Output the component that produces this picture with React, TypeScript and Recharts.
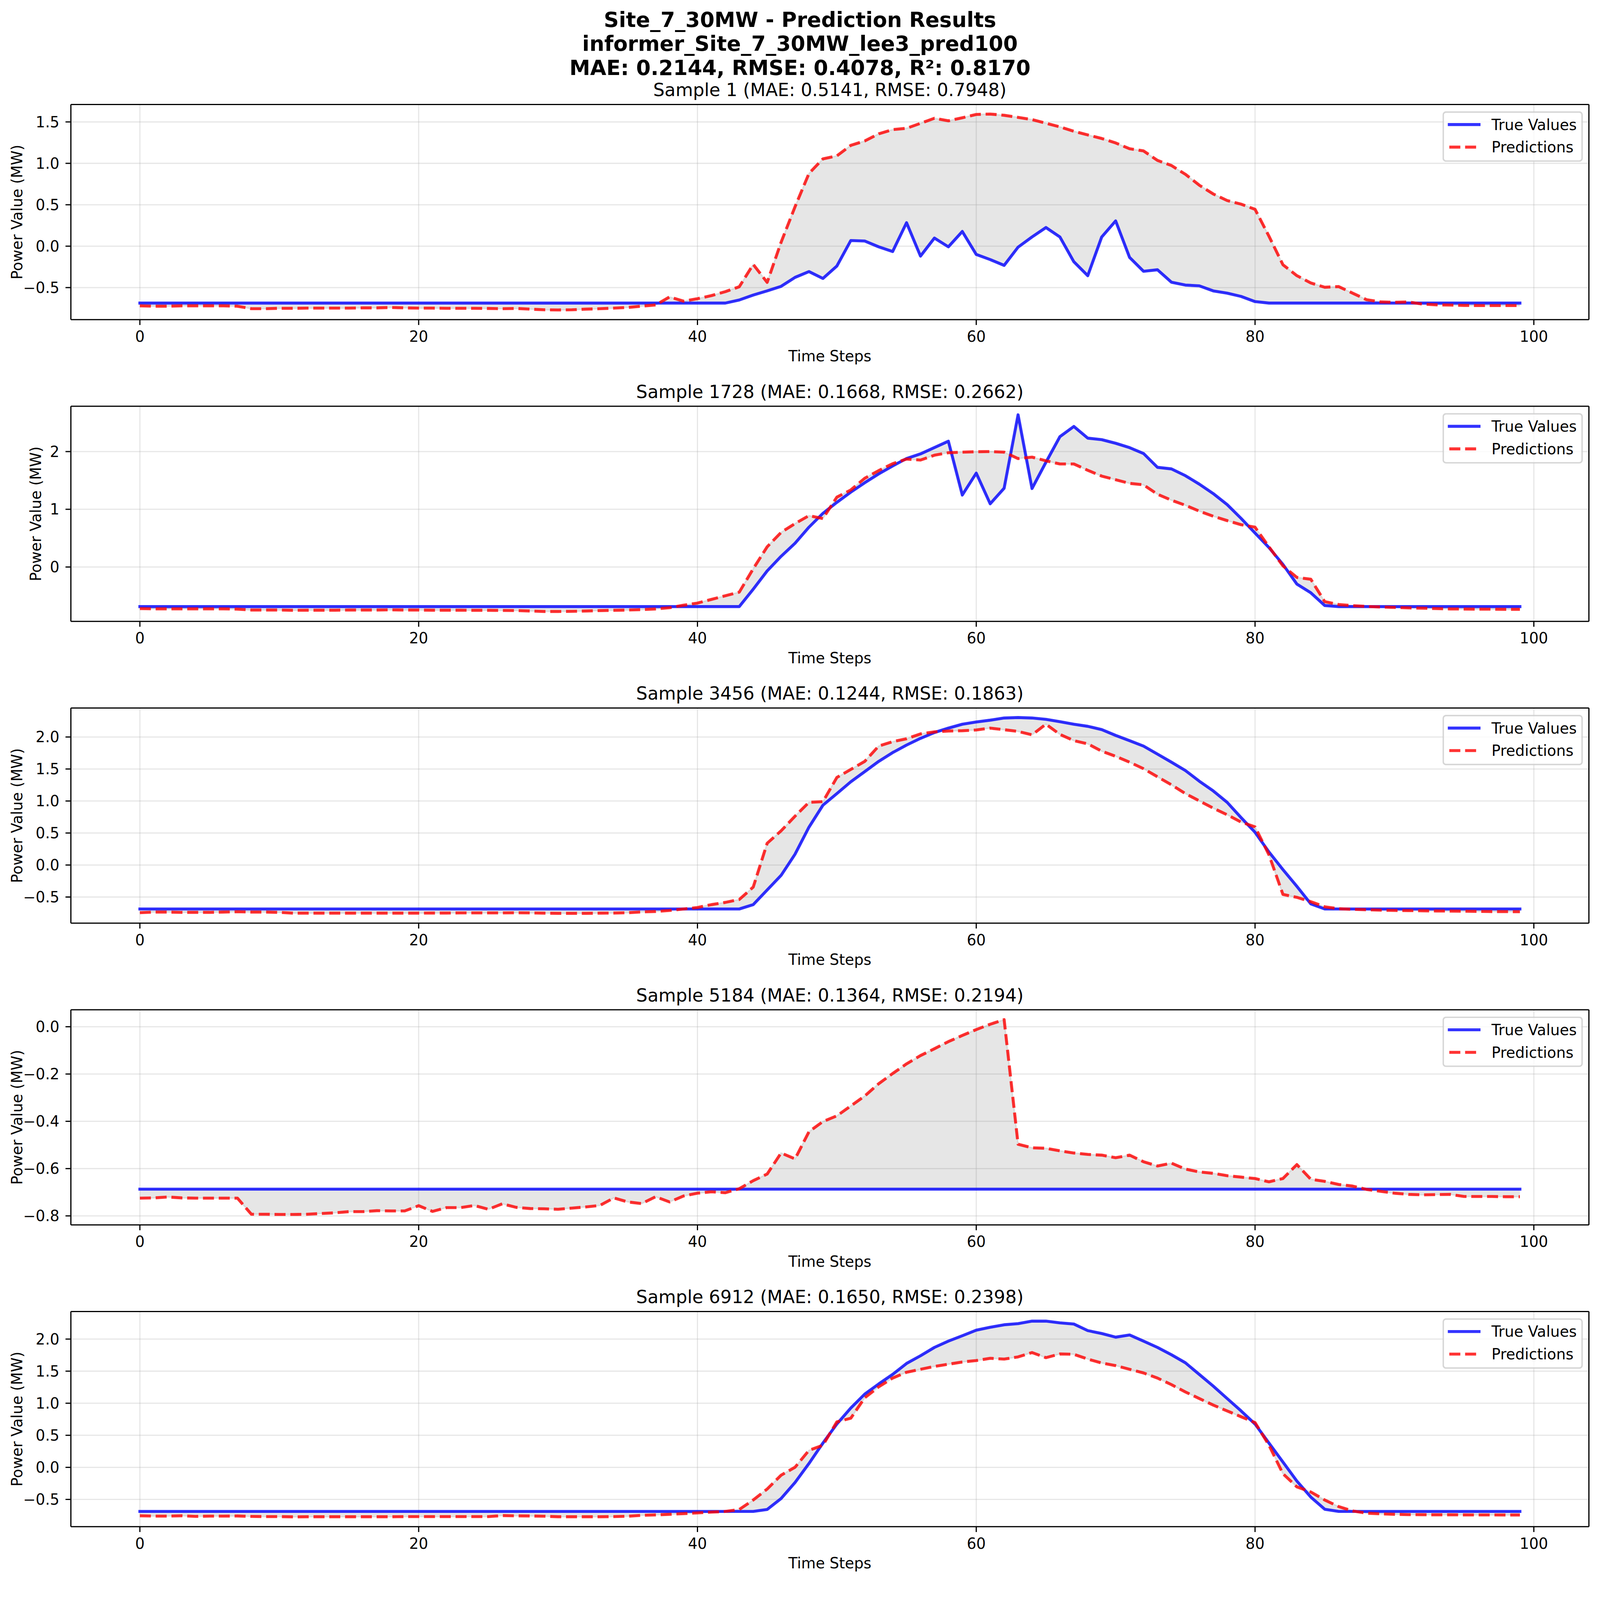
import React from 'react';
import {
  ComposedChart,
  Line,
  Area,
  XAxis,
  YAxis,
  CartesianGrid,
  ReferenceLine,
  Legend,
} from 'recharts';

// ---------------- data ----------------
const TIME_STEPS = Array.from({ length: 100 }, (_, i) => i);
const X_TICKS = [0, 20, 40, 60, 80, 100];

const SUPTITLE_LINES = [
  'Site_7_30MW - Prediction Results',
  'informer_Site_7_30MW_lee3_pred100',
  'MAE: 0.2144, RMSE: 0.4078, R\u00b2: 0.8170',
];
const SAMPLE_TITLES = [
  'Sample 1 (MAE: 0.5141, RMSE: 0.7948)',
  'Sample 1728 (MAE: 0.1668, RMSE: 0.2662)',
  'Sample 3456 (MAE: 0.1244, RMSE: 0.1863)',
  'Sample 5184 (MAE: 0.1364, RMSE: 0.2194)',
  'Sample 6912 (MAE: 0.1650, RMSE: 0.2398)',
];
const SERIES_NAMES = ['True Values', 'Predictions'];
const X_LABEL = 'Time Steps';
const Y_LABEL = 'Power Value (MW)';

const P1_TICKS = [-0.5, 0, 0.5, 1, 1.5];
const P2_TICKS = [0, 1, 2];
const P3_TICKS = [-0.5, 0, 0.5, 1, 1.5, 2];
const P4_TICKS = [-0.8, -0.6, -0.4, -0.2, 0];
const P5_TICKS = [-0.5, 0, 0.5, 1, 1.5, 2];

const P1_TRUE = [
  -0.687, -0.687, -0.687, -0.687, -0.687, -0.687, -0.687, -0.687, -0.687, -0.687,
  -0.687, -0.687, -0.687, -0.687, -0.687, -0.687, -0.687, -0.687, -0.687, -0.687,
  -0.687, -0.687, -0.687, -0.687, -0.687, -0.687, -0.687, -0.687, -0.687, -0.687,
  -0.687, -0.687, -0.687, -0.687, -0.687, -0.687, -0.687, -0.687, -0.687, -0.687,
  -0.687, -0.687, -0.687, -0.65, -0.59, -0.54, -0.485, -0.377, -0.307, -0.39,
  -0.24, 0.068, 0.062, -0.008, -0.065, 0.283, -0.12, 0.098, -0.008, 0.177,
  -0.1, -0.162, -0.232, -0.012, 0.111, 0.225, 0.111, -0.188, -0.356, 0.111,
  0.305, -0.136, -0.303, -0.285, -0.435, -0.47, -0.479, -0.54, -0.567, -0.607,
  -0.669, -0.687, -0.687, -0.687, -0.687, -0.687, -0.687, -0.687, -0.687, -0.687,
  -0.687, -0.687, -0.687, -0.687, -0.687, -0.687, -0.687, -0.687, -0.687, -0.687,
];
const P1_PRED = [
  -0.72, -0.725, -0.725, -0.72, -0.72, -0.72, -0.72, -0.725, -0.755, -0.755,
  -0.75, -0.75, -0.748, -0.748, -0.748, -0.748, -0.745, -0.745, -0.74, -0.745,
  -0.748, -0.748, -0.75, -0.75, -0.75, -0.752, -0.755, -0.752, -0.76, -0.768,
  -0.77, -0.768, -0.76, -0.755, -0.748, -0.74, -0.724, -0.71, -0.613, -0.664,
  -0.634, -0.597, -0.549, -0.49, -0.22, -0.437, 0.047, 0.476, 0.878, 1.054,
  1.09, 1.217, 1.27, 1.356, 1.407, 1.423, 1.483, 1.544, 1.513, 1.55,
  1.59, 1.595, 1.58, 1.555, 1.528, 1.484, 1.44, 1.387, 1.343, 1.3,
  1.246, 1.176, 1.15, 1.035, 0.974, 0.868, 0.736, 0.63, 0.551, 0.507,
  0.445, 0.12, -0.224, -0.356, -0.444, -0.496, -0.488, -0.567, -0.646, -0.673,
  -0.678, -0.673, -0.699, -0.708, -0.711, -0.715, -0.717, -0.717, -0.717, -0.717,
];

const P2_TRUE = [
  -0.686, -0.686, -0.686, -0.686, -0.686, -0.686, -0.686, -0.686, -0.686, -0.686,
  -0.686, -0.686, -0.686, -0.686, -0.686, -0.686, -0.686, -0.686, -0.686, -0.686,
  -0.686, -0.686, -0.686, -0.686, -0.686, -0.686, -0.686, -0.686, -0.686, -0.686,
  -0.686, -0.686, -0.686, -0.686, -0.686, -0.686, -0.686, -0.686, -0.686, -0.686,
  -0.686, -0.686, -0.686, -0.686, -0.384, -0.068, 0.185, 0.412, 0.69, 0.93,
  1.12, 1.297, 1.46, 1.613, 1.75, 1.88, 1.96, 2.07, 2.18, 1.247,
  1.626, 1.095, 1.365, 2.637, 1.36, 1.815, 2.258, 2.435, 2.233, 2.207,
  2.144, 2.068, 1.967, 1.727, 1.7, 1.583, 1.436, 1.272, 1.082, 0.842,
  0.589, 0.336, 0.045, -0.296, -0.447, -0.667, -0.686, -0.686, -0.686, -0.686,
  -0.686, -0.686, -0.686, -0.686, -0.686, -0.686, -0.686, -0.686, -0.686, -0.686,
];
const P2_PRED = [
  -0.72, -0.725, -0.725, -0.725, -0.725, -0.725, -0.725, -0.73, -0.745, -0.745,
  -0.745, -0.75, -0.748, -0.748, -0.748, -0.745, -0.745, -0.745, -0.742, -0.745,
  -0.745, -0.748, -0.748, -0.748, -0.75, -0.75, -0.752, -0.755, -0.762, -0.77,
  -0.77, -0.768, -0.762, -0.755, -0.75, -0.745, -0.738, -0.726, -0.705, -0.662,
  -0.625, -0.561, -0.498, -0.435, -0.03, 0.35, 0.6, 0.753, 0.89, 0.84,
  1.21, 1.335, 1.537, 1.67, 1.79, 1.87, 1.853, 1.937, 1.98, 1.99,
  1.997, 2.0, 1.99, 1.879, 1.904, 1.84, 1.785, 1.785, 1.676, 1.575,
  1.512, 1.449, 1.424, 1.26, 1.158, 1.07, 0.968, 0.88, 0.804, 0.733,
  0.69, 0.349, 0.02, -0.18, -0.212, -0.6, -0.65, -0.67, -0.683, -0.693,
  -0.7, -0.708, -0.713, -0.72, -0.726, -0.728, -0.73, -0.731, -0.733, -0.733,
];

const P3_TRUE = [
  -0.687, -0.687, -0.687, -0.687, -0.687, -0.687, -0.687, -0.687, -0.687, -0.687,
  -0.687, -0.687, -0.687, -0.687, -0.687, -0.687, -0.687, -0.687, -0.687, -0.687,
  -0.687, -0.687, -0.687, -0.687, -0.687, -0.687, -0.687, -0.687, -0.687, -0.687,
  -0.687, -0.687, -0.687, -0.687, -0.687, -0.687, -0.687, -0.687, -0.687, -0.687,
  -0.687, -0.687, -0.687, -0.687, -0.619, -0.39, -0.162, 0.169, 0.591, 0.934,
  1.116, 1.3, 1.459, 1.619, 1.756, 1.874, 1.979, 2.07, 2.139, 2.2,
  2.235, 2.263, 2.297, 2.304, 2.297, 2.276, 2.24, 2.2, 2.167, 2.116,
  2.025, 1.943, 1.858, 1.733, 1.607, 1.477, 1.31, 1.158, 0.979, 0.74,
  0.511, 0.203, -0.071, -0.333, -0.607, -0.687, -0.687, -0.687, -0.687, -0.687,
  -0.687, -0.687, -0.687, -0.687, -0.687, -0.687, -0.687, -0.687, -0.687, -0.687,
];
const P3_PRED = [
  -0.745, -0.735, -0.735, -0.74, -0.74, -0.74, -0.735, -0.73, -0.735, -0.735,
  -0.74, -0.752, -0.752, -0.752, -0.752, -0.752, -0.752, -0.752, -0.752, -0.752,
  -0.752, -0.75, -0.75, -0.748, -0.748, -0.748, -0.748, -0.746, -0.748, -0.752,
  -0.755, -0.755, -0.755, -0.752, -0.75, -0.745, -0.733, -0.726, -0.71, -0.687,
  -0.664, -0.619, -0.584, -0.539, -0.345, 0.34, 0.534, 0.763, 0.98, 0.99,
  1.368, 1.493, 1.619, 1.858, 1.927, 1.973, 2.048, 2.08, 2.094, 2.098,
  2.11, 2.139, 2.114, 2.087, 2.034, 2.2, 2.041, 1.943, 1.893, 1.779,
  1.699, 1.607, 1.505, 1.379, 1.253, 1.116, 1.002, 0.888, 0.785, 0.671,
  0.596, 0.158, -0.459, -0.505, -0.573, -0.653, -0.683, -0.692, -0.699, -0.705,
  -0.71, -0.712, -0.715, -0.718, -0.72, -0.722, -0.725, -0.727, -0.728, -0.73,
];

const P4_TRUE = [
  -0.687, -0.687, -0.687, -0.687, -0.687, -0.687, -0.687, -0.687, -0.687, -0.687,
  -0.687, -0.687, -0.687, -0.687, -0.687, -0.687, -0.687, -0.687, -0.687, -0.687,
  -0.687, -0.687, -0.687, -0.687, -0.687, -0.687, -0.687, -0.687, -0.687, -0.687,
  -0.687, -0.687, -0.687, -0.687, -0.687, -0.687, -0.687, -0.687, -0.687, -0.687,
  -0.687, -0.687, -0.687, -0.687, -0.687, -0.687, -0.687, -0.687, -0.687, -0.687,
  -0.687, -0.687, -0.687, -0.687, -0.687, -0.687, -0.687, -0.687, -0.687, -0.687,
  -0.687, -0.687, -0.687, -0.687, -0.687, -0.687, -0.687, -0.687, -0.687, -0.687,
  -0.687, -0.687, -0.687, -0.687, -0.687, -0.687, -0.687, -0.687, -0.687, -0.687,
  -0.687, -0.687, -0.687, -0.687, -0.687, -0.687, -0.687, -0.687, -0.687, -0.687,
  -0.687, -0.687, -0.687, -0.687, -0.687, -0.687, -0.687, -0.687, -0.687, -0.687,
];
const P4_PRED = [
  -0.725, -0.724, -0.72, -0.724, -0.725, -0.725, -0.725, -0.725, -0.793, -0.793,
  -0.794, -0.794, -0.793, -0.79, -0.787, -0.782, -0.782, -0.778, -0.779, -0.779,
  -0.757, -0.781, -0.765, -0.765, -0.756, -0.772, -0.749, -0.764, -0.769, -0.77,
  -0.772, -0.767, -0.762, -0.756, -0.724, -0.741, -0.748, -0.719, -0.741, -0.716,
  -0.704, -0.698, -0.702, -0.685, -0.651, -0.623, -0.534, -0.559, -0.444, -0.401,
  -0.377, -0.335, -0.293, -0.241, -0.198, -0.157, -0.122, -0.093, -0.063, -0.037,
  -0.012, 0.0105, 0.03, -0.497, -0.512, -0.514, -0.525, -0.534, -0.54, -0.543,
  -0.554, -0.543, -0.571, -0.589, -0.577, -0.602, -0.614, -0.62, -0.63, -0.636,
  -0.642, -0.656, -0.642, -0.583, -0.645, -0.654, -0.667, -0.674, -0.688, -0.696,
  -0.704, -0.709, -0.711, -0.71, -0.709, -0.718, -0.718, -0.718, -0.719, -0.719,
];

const P5_TRUE = [
  -0.687, -0.687, -0.687, -0.687, -0.687, -0.687, -0.687, -0.687, -0.687, -0.687,
  -0.687, -0.687, -0.687, -0.687, -0.687, -0.687, -0.687, -0.687, -0.687, -0.687,
  -0.687, -0.687, -0.687, -0.687, -0.687, -0.687, -0.687, -0.687, -0.687, -0.687,
  -0.687, -0.687, -0.687, -0.687, -0.687, -0.687, -0.687, -0.687, -0.687, -0.687,
  -0.687, -0.687, -0.687, -0.687, -0.687, -0.657, -0.486, -0.236, 0.06, 0.379,
  0.675, 0.925, 1.142, 1.3, 1.449, 1.62, 1.74, 1.87, 1.968, 2.052,
  2.139, 2.184, 2.223, 2.241, 2.28, 2.28, 2.253, 2.235, 2.132, 2.087,
  2.03, 2.064, 1.968, 1.87, 1.756, 1.631, 1.449, 1.267, 1.073, 0.88,
  0.675, 0.379, 0.083, -0.213, -0.464, -0.653, -0.687, -0.687, -0.687, -0.687,
  -0.687, -0.687, -0.687, -0.687, -0.687, -0.687, -0.687, -0.687, -0.687, -0.687,
];
const P5_PRED = [
  -0.755, -0.76, -0.76, -0.755, -0.765, -0.76, -0.76, -0.758, -0.765, -0.768,
  -0.768, -0.772, -0.77, -0.77, -0.77, -0.77, -0.77, -0.77, -0.77, -0.768,
  -0.768, -0.768, -0.768, -0.768, -0.768, -0.768, -0.752, -0.756, -0.758, -0.762,
  -0.77, -0.77, -0.77, -0.77, -0.768, -0.762, -0.748, -0.741, -0.732, -0.721,
  -0.71, -0.698, -0.687, -0.657, -0.509, -0.338, -0.122, 0.002, 0.265, 0.345,
  0.709, 0.766, 1.085, 1.255, 1.392, 1.483, 1.529, 1.574, 1.608, 1.643,
  1.665, 1.7, 1.688, 1.722, 1.79, 1.71, 1.768, 1.763, 1.688, 1.627,
  1.586, 1.529, 1.472, 1.392, 1.29, 1.176, 1.073, 0.971, 0.88, 0.789,
  0.698, 0.345, -0.099, -0.304, -0.384, -0.509, -0.612, -0.68, -0.714, -0.725,
  -0.732, -0.737, -0.738, -0.74, -0.74, -0.741, -0.742, -0.742, -0.743, -0.743,
];

// ---------------- layout / style ----------------
const FONT = "'DejaVu Sans', sans-serif";
const FIG_W = 4470;
const FIG_H = 4425;
const PLOT_LEFT = 198;
const PLOT_RIGHT = 4439;
const PLOT_H = 601;
const PAD_TOP = 100;
const X_AXIS_H = 140;
const CHART_H = PAD_TOP + PLOT_H + X_AXIS_H;
const PANEL_STEP = 843;
const FIRST_PANEL_TOP = 292;
const X_DOMAIN: [number, number] = [-4.95, 103.95];
const TICK_FS = 41.7;
const TITLE_FS = 50;
const SUPTITLE_FS = 58.3;
const LW = 8.33;
const THIN = 3.33;
const BLUE = '#0000ff';
const RED = '#ff0000';

const PANEL_LAYOUT = [
  { domain: [-0.887, 1.71], decimals: 1, yLabelX: 62 },
  { domain: [-0.942, 2.785], decimals: 0, yLabelX: 115 },
  { domain: [-0.908, 2.453], decimals: 1, yLabelX: 62 },
  { domain: [-0.838, 0.0718], decimals: 1, yLabelX: 62 },
  { domain: [-0.924, 2.43], decimals: 1, yLabelX: 62 },
];

const PANELS = [
  { title: SAMPLE_TITLES[0], truth: P1_TRUE, pred: P1_PRED, ticks: P1_TICKS },
  { title: SAMPLE_TITLES[1], truth: P2_TRUE, pred: P2_PRED, ticks: P2_TICKS },
  { title: SAMPLE_TITLES[2], truth: P3_TRUE, pred: P3_PRED, ticks: P3_TICKS },
  { title: SAMPLE_TITLES[3], truth: P4_TRUE, pred: P4_PRED, ticks: P4_TICKS },
  { title: SAMPLE_TITLES[4], truth: P5_TRUE, pred: P5_PRED, ticks: P5_TICKS },
];

const fmt = (decimals: number) => (v: number) => {
  const s = Number(v).toFixed(decimals);
  return s === '-0' || s === '-0.0' ? s.slice(1) : s.replace('-', '\u2212');
};

const LegendBox = () => (
  <svg width={392} height={141} style={{ display: 'block' }}>
    <rect x={2} y={2} width={388} height={137} rx={8} ry={8} fill="#ffffff" fillOpacity={0.8}
      stroke="#cccccc" strokeOpacity={0.8} strokeWidth={4.17} />
    <line x1={19} x2={102} y1={37} y2={37} stroke={BLUE} strokeOpacity={0.8} strokeWidth={LW} strokeLinecap="square" />
    <text x={137} y={52} fontSize={TICK_FS} fontFamily={FONT} fill="#000">{SERIES_NAMES[0]}</text>
    <line x1={19} x2={102} y1={100} y2={100} stroke={RED} strokeOpacity={0.8} strokeWidth={LW}
      strokeDasharray="30.8 13.3" strokeLinecap="butt" />
    <text x={137} y={115} fontSize={TICK_FS} fontFamily={FONT} fill="#000">{SERIES_NAMES[1]}</text>
  </svg>
);

function Panel({ index }: { index: number }) {
  const p = PANELS[index];
  const lay = PANEL_LAYOUT[index];
  const data = TIME_STEPS.map((t, i) => ({ t, truth: p.truth[i], pred: p.pred[i] }));
  const top = FIRST_PANEL_TOP + PANEL_STEP * index - PAD_TOP;
  const plotMidX = (PLOT_LEFT + PLOT_RIGHT) / 2;
  const plotMidY = PAD_TOP + PLOT_H / 2;
  const plotBottom = PAD_TOP + PLOT_H;
  const tickStyle = { fontSize: TICK_FS, fill: '#000', fontFamily: FONT };

  return (
    <div style={{ position: 'absolute', left: 0, top, width: FIG_W, height: CHART_H }}>
      <ComposedChart
        width={FIG_W}
        height={CHART_H}
        data={data}
        margin={{ top: PAD_TOP, right: FIG_W - PLOT_RIGHT, bottom: 0, left: 0 }}
      >
        <CartesianGrid stroke="#b0b0b0" strokeOpacity={0.3} strokeWidth={THIN} />
        <XAxis
          type="number"
          dataKey="t"
          domain={X_DOMAIN}
          ticks={X_TICKS}
          interval={0}
          allowDataOverflow
          height={X_AXIS_H}
          tickSize={15}
          tickMargin={17}
          tick={tickStyle}
          axisLine={{ stroke: '#000', strokeWidth: THIN }}
          tickLine={{ stroke: '#000', strokeWidth: THIN }}
          label={{
            content: () => (
              <text x={plotMidX} y={plotBottom + 117} textAnchor="middle" fontSize={TICK_FS}
                fontFamily={FONT} fill="#000">{X_LABEL}</text>
            ),
          }}
        />
        <YAxis
          type="number"
          domain={lay.domain}
          ticks={p.ticks}
          interval={0}
          allowDataOverflow
          width={PLOT_LEFT}
          tickSize={15}
          tickMargin={17}
          tick={tickStyle}
          tickFormatter={fmt(lay.decimals)}
          axisLine={{ stroke: '#000', strokeWidth: THIN }}
          tickLine={{ stroke: '#000', strokeWidth: THIN }}
          label={{
            content: () => (
              <text x={lay.yLabelX} y={plotMidY} transform={`rotate(-90, ${lay.yLabelX}, ${plotMidY})`}
                textAnchor="middle" fontSize={TICK_FS} fontFamily={FONT} fill="#000">{Y_LABEL}</text>
            ),
          }}
        />
        <Area
          type="linear"
          dataKey={(d: any) => [d.truth, d.pred]}
          fill="#808080"
          fillOpacity={0.2}
          stroke="#808080"
          strokeOpacity={0.2}
          strokeWidth={4.17}
          legendType="none"
          dot={false}
          activeDot={false}
          isAnimationActive={false}
        />
        <Line
          type="linear"
          dataKey="truth"
          name={SERIES_NAMES[0]}
          stroke={BLUE}
          strokeOpacity={0.8}
          strokeWidth={LW}
          strokeLinejoin="round"
          strokeLinecap="square"
          dot={false}
          activeDot={false}
          isAnimationActive={false}
        />
        <Line
          type="linear"
          dataKey="pred"
          name={SERIES_NAMES[1]}
          stroke={RED}
          strokeOpacity={0.8}
          strokeWidth={LW}
          strokeDasharray="30.8 13.3"
          strokeLinejoin="round"
          strokeLinecap="butt"
          dot={false}
          activeDot={false}
          isAnimationActive={false}
        />
        <ReferenceLine
          y={lay.domain[1]}
          ifOverflow="visible"
          stroke="#000"
          strokeWidth={THIN}
          label={{
            content: () => (
              <text x={plotMidX} y={PAD_TOP - 23} textAnchor="middle" fontSize={TITLE_FS}
                fontFamily={FONT} fill="#000">{p.title}</text>
            ),
          }}
        />
        <ReferenceLine x={X_DOMAIN[1]} ifOverflow="visible" stroke="#000" strokeWidth={THIN} />
        <Legend
          layout="horizontal"
          verticalAlign="middle"
          align="center"
          wrapperStyle={{ position: 'absolute', left: PLOT_RIGHT - 409, top: PAD_TOP + 19, width: 392, height: 141, margin: 0, padding: 0 }}
          content={() => <LegendBox />}
        />
      </ComposedChart>
    </div>
  );
}

function viewScale() {
  if (typeof window === 'undefined') return 1;
  const w = window.innerWidth;
  if (!w || w < 1000) return 1;
  return Math.min(1, w / FIG_W);
}

export default function App() {
  const s = viewScale();
  return (
    <div
      style={{
        position: 'absolute',
        left: 0,
        top: 0,
        width: FIG_W * s,
        height: FIG_H * s,
        overflow: 'hidden',
        background: '#ffffff',
      }}
    >
      <div
        style={{
          position: 'absolute',
          left: 0,
          top: 0,
          width: FIG_W,
          height: FIG_H,
          background: '#ffffff',
          fontFamily: FONT,
          transform: `scale(${s})`,
          transformOrigin: '0 0',
        }}
      >
        <svg width={FIG_W} height={240} style={{ position: 'absolute', left: 0, top: 0 }}>
          {SUPTITLE_LINES.map((line, i) => (
            <text key={i} x={FIG_W / 2} y={[75, 142, 210][i]} textAnchor="middle" fontSize={SUPTITLE_FS}
              fontWeight="bold" fontFamily={FONT} fill="#000">{line}</text>
          ))}
        </svg>
        {PANELS.map((_, i) => (
          <Panel key={i} index={i} />
        ))}
      </div>
    </div>
  );
}
